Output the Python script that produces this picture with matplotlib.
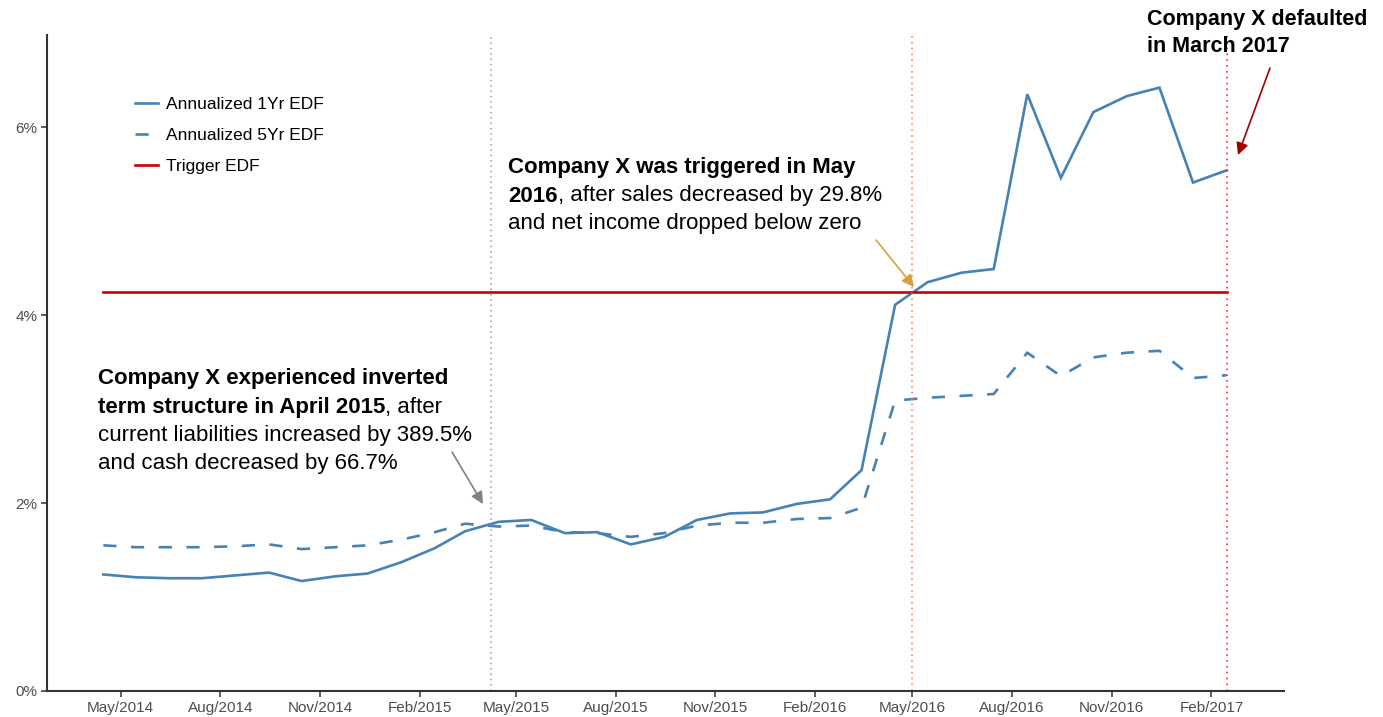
import numpy as np
import pandas as pd
import matplotlib
matplotlib.use("Agg")
import matplotlib.pyplot as plt
import matplotlib.dates as mdates
from matplotlib.lines import Line2D

plt.rcParams['font.family'] = ['Liberation Sans', 'DejaVu Sans']

# ----- data -----
months = pd.date_range("2014-04-01", "2017-02-01", freq="MS") + pd.Timedelta(days=14)

edf_1yr = [1.24, 1.21, 1.20, 1.20, 1.23, 1.26, 1.17, 1.22, 1.25, 1.37, 1.52, 1.70,
           1.80, 1.82, 1.68, 1.69, 1.56, 1.64, 1.82, 1.89, 1.90, 1.99, 2.04, 2.35,
           4.11, 4.35, 4.45, 4.49, 6.35, 5.46, 6.16, 6.33, 6.42, 5.41, 5.54]
edf_5yr = [1.55, 1.53, 1.53, 1.53, 1.54, 1.56, 1.51, 1.53, 1.55, 1.61, 1.69, 1.78,
           1.75, 1.76, 1.69, 1.68, 1.64, 1.68, 1.76, 1.79, 1.79, 1.83, 1.84, 1.95,
           3.09, 3.12, 3.14, 3.16, 3.60, 3.35, 3.55, 3.60, 3.62, 3.33, 3.36]
trigger_edf = 4.25

inverted_date = pd.Timestamp("2015-04-08")
trigger_date = pd.Timestamp("2016-05-01")
default_date = months[-1]

series_labels = ["Annualized 1Yr EDF", "Annualized 5Yr EDF", "Trigger EDF"]
y_ticks = [0, 2, 4, 6]

# ----- figure -----
W, H = 1383, 717
fig = plt.figure(figsize=(W / 100, H / 100), dpi=100)
ax = fig.add_axes([47 / W, 1 - 691 / H, (1284 - 47) / W, (691 - 35) / H])

blue = '#4682B4'
ax.plot(months, edf_1yr, color=blue, lw=1.9, solid_joinstyle='miter')
ax.plot(months, edf_5yr, color=blue, lw=1.9, linestyle=(0, (5, 5.5)))
ax.plot([months[0], months[-1]], [trigger_edf, trigger_edf], color='#CC0000', lw=1.9)

ax.axvline(inverted_date, color='#9a9a9a', lw=1.1, linestyle=(0, (1, 2.5)))
ax.axvline(trigger_date, color='#FF8060', lw=1.2, linestyle=(0, (1, 2.5)))
ax.axvline(default_date, color='#FF3030', lw=1.2, linestyle=(0, (1, 2.5)))

ax.set_xlim(mdates.date2num(pd.Timestamp("2014-02-22")), mdates.date2num(pd.Timestamp("2017-04-09")))
ax.set_ylim(0, 6.98)

ax.xaxis.set_major_locator(mdates.MonthLocator(bymonth=[2, 5, 8, 11]))
ax.xaxis.set_major_formatter(mdates.DateFormatter("%b/%Y"))
ax.set_yticks(y_ticks)
ax.set_yticklabels([f"{v}%" for v in y_ticks])

for s in ['top', 'right']:
    ax.spines[s].set_visible(False)
for s in ['left', 'bottom']:
    ax.spines[s].set_color('#333333')
    ax.spines[s].set_linewidth(1.5)
ax.tick_params(axis='both', length=4, width=1.1, color='#333333', labelcolor='#4D4D4D',
               labelsize=11, pad=3)

handles = [Line2D([], [], color=blue, lw=1.9),
           Line2D([], [], color=blue, lw=1.9, linestyle=(0, (5, 10))),
           Line2D([], [], color='#CC0000', lw=1.9)]
fig.legend(handles, series_labels, loc='upper left', frameon=False,
           bbox_to_anchor=(135 / W, 1 - 97 / H), fontsize=12.5,
           handlelength=1.35, handletextpad=0.45, labelspacing=0.9,
           borderpad=0, borderaxespad=0)


# ----- annotations -----
def rich_line(x, y, parts, size=16):
    prev = None
    for txt, weight in parts:
        if prev is None:
            prev = fig.text(x / W, 1 - y / H, txt, fontsize=size, fontweight=weight,
                            ha='left', va='center')
        else:
            prev = ax.annotate(txt, xy=(1, 0.5), xycoords=prev, fontsize=size,
                               fontweight=weight, ha='left', va='center')


rich_line(98, 378, [("Company X experienced inverted", 'bold')])
rich_line(98, 407, [("term structure in April 2015", 'bold'), (", after", 'normal')])
rich_line(98, 435, [("current liabilities increased by 389.5%", 'normal')])
rich_line(98, 463, [("and cash decreased by 66.7%", 'normal')])

rich_line(508, 168, [("Company X was triggered in May", 'bold')])
rich_line(508, 196, [("2016", 'bold'), (", after sales decreased by 29.8%", 'normal')])
rich_line(508, 223, [("and net income dropped below zero", 'normal')])

rich_line(1147, 20, [("Company X defaulted", 'bold')], size=15.5)
rich_line(1147, 46, [("in March 2017", 'bold')], size=15.5)


def arrow(x0, y0, x1, y1, color):
    ax.annotate("", xy=(x1, H - y1), xycoords='figure pixels',
                xytext=(x0, H - y0), textcoords='figure pixels',
                arrowprops=dict(arrowstyle='-|>', color=color, lw=1.2,
                                mutation_scale=18, shrinkA=0, shrinkB=0))


arrow(452, 452, 483, 504, '#808080')
arrow(876, 240, 914, 287, '#DAA038')
arrow(1270, 68, 1238, 155, '#A00000')

fig.savefig("out.png", dpi=100)
